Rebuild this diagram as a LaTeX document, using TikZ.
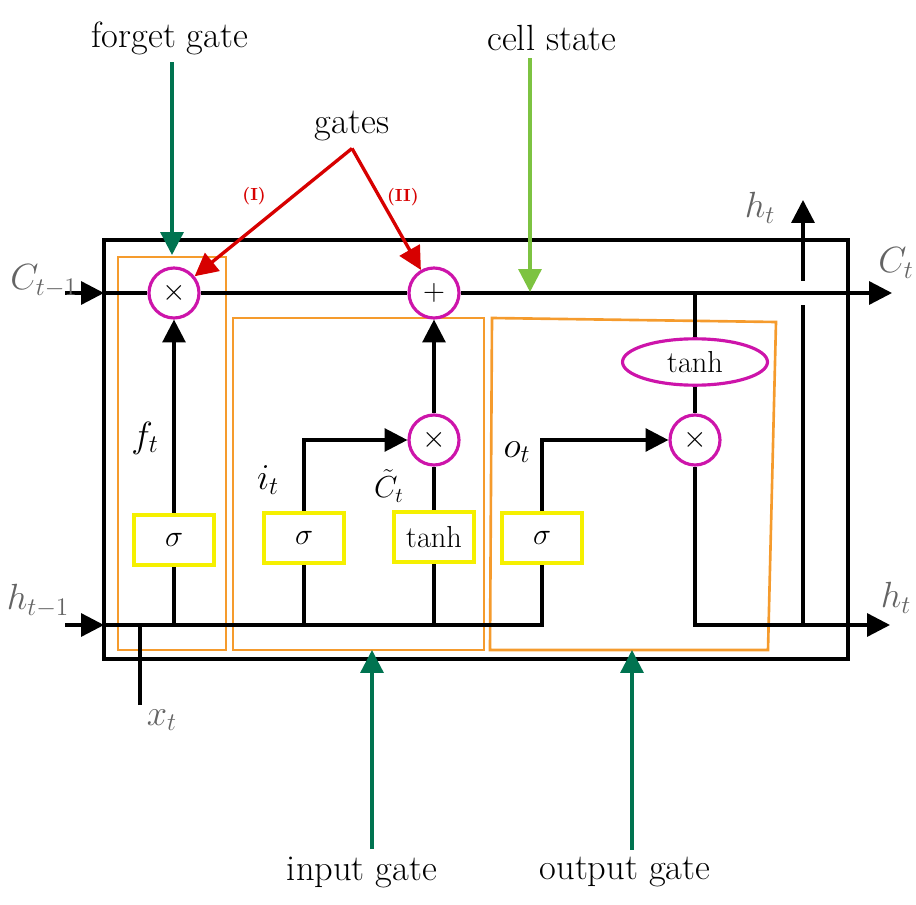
\documentclass[tikz,border=0pt]{standalone}
\usepackage{amsmath,amssymb}
\usetikzlibrary{arrows.meta,shapes.geometric}
\definecolor{gorange}{RGB}{245,155,45}
\definecolor{gmag}{RGB}{205,20,170}
\definecolor{gyel}{RGB}{245,240,0}
\definecolor{dgreen}{RGB}{0,115,80}
\definecolor{lgreen}{RGB}{125,195,65}
\definecolor{gred}{RGB}{215,0,0}
\definecolor{ggrey}{RGB}{100,100,100}

\begin{document}
\begin{tikzpicture}[x=0.02cm,y=-0.02cm,line width=1.9pt,
  >={Triangle[length=13pt,width=13pt]},
  op/.style={circle,draw=gmag,fill=white,line width=1.8pt,minimum size=1cm,inner sep=0pt,font=\LARGE},
  act/.style={rectangle,draw=gyel,fill=white,line width=2.8pt,minimum width=1.6cm,minimum height=1cm,inner sep=0pt,font=\LARGE},
  gatebox/.style={draw=gorange,line width=1.5pt},
  lab/.style={font=\huge},
  io/.style={font=\huge,text=ggrey}]
\useasboundingbox (0,0) rectangle (916,905);

% cell
\draw (104,240) rectangle (848,659);
\draw[gatebox] (118,257) rectangle (226,650);
\draw[gatebox] (233,318) rectangle (484,650);
\draw[gatebox] (492,318) -- (776,322) -- (768,650) -- (490,650) -- cycle;

\coordinate (cin) at (65,293);
\coordinate (cedge) at (104,293);
\coordinate (cj) at (695,293);
\coordinate (cout) at (892,293);
\coordinate (hin) at (65,625);
\coordinate (hedge) at (104,625);
\coordinate (hf) at (174,625);
\coordinate (hi) at (304,625);
\coordinate (ht) at (434,625);
\coordinate (hx) at (140,625);
\coordinate (xin) at (140,705);
\coordinate (hj) at (803,625);
\coordinate (hgap) at (803,305);
\coordinate (hgap2) at (803,281);
\coordinate (hup) at (803,200);
\coordinate (hout) at (890,625);

\node[op] (fx) at (174,293) {$\times$};
\node[op] (plus) at (434,293) {$+$};
\node[op] (ix) at (434,440) {$\times$};
\node[op] (ox) at (695,440) {$\times$};
\node[ellipse,draw=gmag,fill=white,line width=1.8pt,minimum width=2.9cm,minimum height=0.9cm,font=\LARGE] (th) at (695,362) {$\tanh$};

\node[act] (fs) at (174,540) {$\sigma$};
\node[act] (is) at (304,538) {$\sigma$};
\node[act] (ts) at (434,537) {$\tanh$};
\node[act] (os) at (542,538) {$\sigma$};

% cell state
\draw[->] (cin) -- (cedge);
\draw (cedge) -- (fx);
\draw (fx) -- (plus);
\draw[->] (plus) -- (cout);
\draw (cj) -- (th);
\draw (th) -- (ox);
\draw[->] (ox) |- (hout);
\draw (hj) -- (hgap);
\draw[->] (hgap2) -- (hup);

% hidden state
\draw[->] (hin) -- (hedge);
\draw (hedge) -| (os);
\draw (xin) -- (hx);
\draw (hf) -- (fs);
\draw (hi) -- (is);
\draw (ht) -- (ts);
\draw[->] (fs) -- (fx);
\draw[->] (is) |- (ix);
\draw (ts) -- (ix);
\draw[->] (ix) -- (plus);
\draw[->] (os) |- (ox);

\node[lab] at (145,438) {$f_t$};
\node[lab] at (268,480) {$i_t$};
\node[font=\LARGE,inner sep=1pt] at (389,486) {$\tilde{C}_t$};
\node[lab] at (517,452) {$o_t$};

\node[io] at (44,281) {$C_{t-1}$};
\node[io] at (896,263) {$C_t$};
\node[io] at (38,601) {$h_{t-1}$};
\node[io] at (896,598) {$h_t$};
\node[io] at (760,208) {$h_t$};
\node[io] at (162,720) {$x_t$};

% annotations
\node[lab] (fgate) at (170,38) {forget gate};
\node[lab] (cstate) at (552,38) {cell state};
\node[lab] (gates) at (352,126) {gates};
\node[lab] (igate) at (362,872) {input gate};
\node[lab] (ogate) at (625,872) {output gate};
\coordinate (fgt) at (172,255);
\coordinate (cst) at (530,292);
\coordinate (igt) at (372,650);
\coordinate (ogt) at (632,650);

\draw[->,dgreen] (fgate.south -| fgt) -- (fgt);
\draw[->,lgreen] (cstate.south -| cst) -- (cst);
\draw[->,dgreen] (igate.north -| igt) -- (igt);
\draw[->,dgreen] (ogate.north -| ogt) -- (ogt);
\draw[->,gred] (gates.south) -- (fx) node[pos=0.5,above left,font=\bfseries] {(I)};
\draw[->,gred] (gates.south) -- (plus) node[pos=0.4,right,font=\bfseries] {(II)};
\end{tikzpicture}
\end{document}
